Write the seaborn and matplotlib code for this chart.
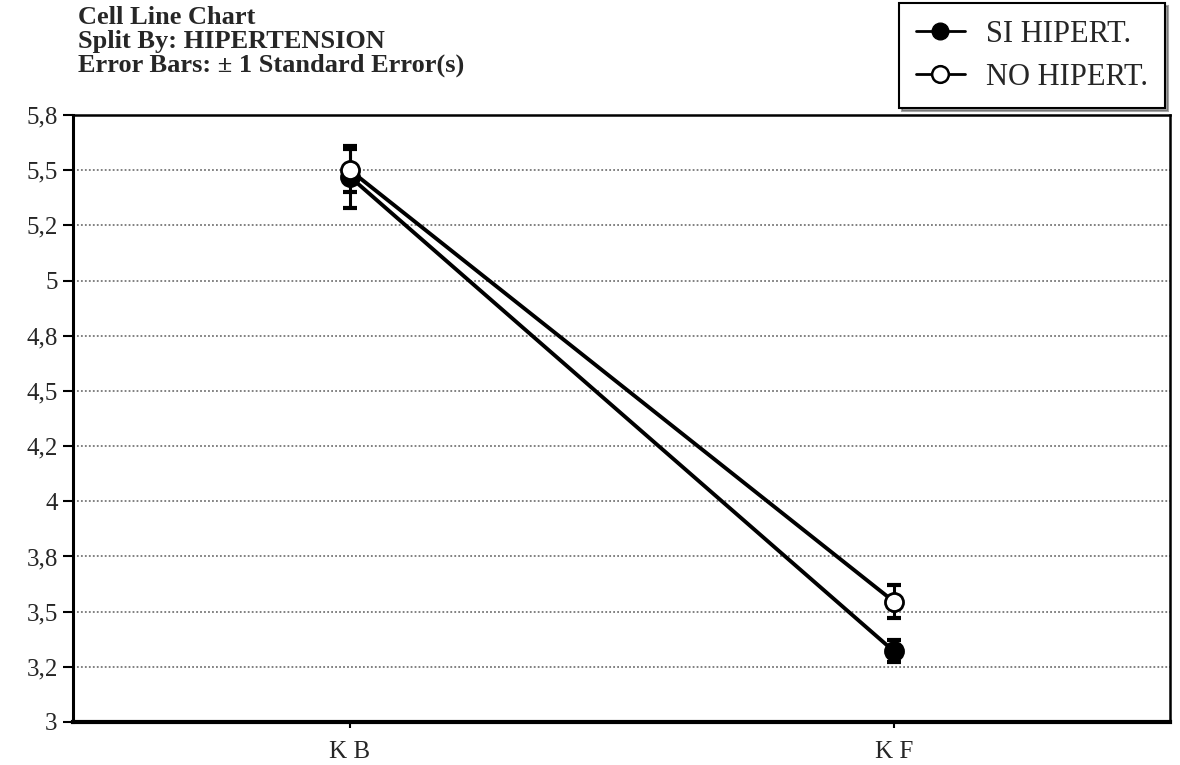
import numpy as np
import pandas as pd
import matplotlib
matplotlib.use("Agg")
import matplotlib.pyplot as plt
from matplotlib.lines import Line2D
import seaborn as sns

categories = ["K B", "K F"]
series_names = ["SI HIPERT.", "NO HIPERT."]
si_means = [5.47, 3.32]
si_se = [0.14, 0.05]
no_means = [5.50, 3.545]
no_se = [0.097, 0.075]
ytick_values = [3.0, 3.25, 3.5, 3.75, 4.0, 4.25, 4.5, 4.75, 5.0, 5.25, 5.5, 5.75]
ytick_labels = ["3", "3,2", "3,5", "3,8", "4", "4,2", "4,5", "4,8", "5", "5,2", "5,5", "5,8"]
title_lines = ["Cell Line Chart", "Split By: HIPERTENSION", "Error Bars: \u00b1 1 Standard Error(s)"]

sns.set_style("white")
plt.rcParams["font.family"] = ["Liberation Serif", "DejaVu Serif"]

W, H = 1180, 765
L, R, T, B = 73, 1170, 115, 722
fig = plt.figure(figsize=(11.8, 7.65), dpi=100)
ax = fig.add_axes([L/W, 1-B/H, (R-L)/W, (B-T)/H])

xpos = np.arange(len(categories))
df_si = pd.DataFrame({"x": xpos, "y": si_means})
df_no = pd.DataFrame({"x": xpos, "y": no_means})

for df, se, face in [(df_si, si_se, "black"), (df_no, no_se, "white")]:
    ax.errorbar(df["x"], df["y"], yerr=se, fmt="none", ecolor="black",
                elinewidth=2.2, capsize=5, capthick=3, zorder=2)
    sns.lineplot(data=df, x="x", y="y", ax=ax, color="black", linewidth=2.8,
                 marker="o", markersize=13, markerfacecolor=face,
                 markeredgecolor="black", markeredgewidth=2, zorder=3)

kb_px, kf_px = 350, 894
unit = kf_px - kb_px
ax.set_xlim(-(kb_px - L)/unit, 1 + (R - kf_px)/unit)
ax.set_ylim(3.0, 5.75)
ax.set_xticks(xpos)
ax.set_xticklabels(categories, fontsize=18)
ax.set_yticks(ytick_values)
ax.set_yticklabels(ytick_labels, fontsize=18)
ax.set_xlabel("")
ax.set_ylabel("")
ax.tick_params(axis="y", which="both", left=True, length=7, width=1.5, color="black", pad=4)
ax.tick_params(axis="x", which="both", bottom=True, length=4, width=1.5, color="black", pad=10)

for y in ytick_values[1:-1]:
    ax.axhline(y, color="#777777", linestyle=(0, (1, 1.2)), linewidth=1.3, zorder=1)

for side in ["left", "right", "top"]:
    ax.spines[side].set_color("black")
    ax.spines[side].set_linewidth(1.8)
ax.spines["bottom"].set_color("black")
ax.spines["bottom"].set_linewidth(3)
ax.spines["left"].set_linewidth(2.2)

for i, line in enumerate(title_lines):
    fig.text(78/W, 1 - (18 + i*23.5)/H, line, fontsize=19, fontweight="bold",
             va="center", ha="left")

handles = [
    Line2D([0], [0], color="black", linewidth=2, marker="o", markersize=12,
           markerfacecolor="black", markeredgecolor="black"),
    Line2D([0], [0], color="black", linewidth=2, marker="o", markersize=12,
           markerfacecolor="white", markeredgecolor="black", markeredgewidth=1.8),
]
leg = fig.legend(handles, series_names, loc="upper right",
                 bbox_to_anchor=(1165/W, 1 - 3/H), fontsize=22,
                 frameon=True, fancybox=False, shadow=True, edgecolor="black",
                 framealpha=1, handlelength=1.6, borderpad=0.55, labelspacing=0.45,
                 handletextpad=0.7, borderaxespad=0)
leg.get_frame().set_linewidth(1.5)
leg.set_zorder(10)

fig.savefig("out.png", dpi=100, facecolor="white")
